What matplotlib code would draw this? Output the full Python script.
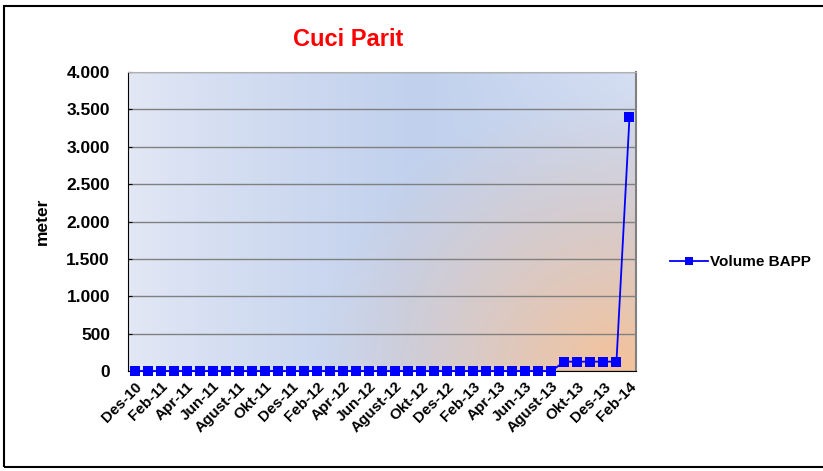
import numpy as np
import matplotlib.pyplot as plt
from matplotlib.patches import Rectangle
from matplotlib.ticker import FuncFormatter

# monthly categories Des-10 .. Feb-14
months = ["Des-10", "Jan-11", "Feb-11", "Mar-11", "Apr-11", "Mei-11", "Jun-11",
          "Jul-11", "Agust-11", "Sep-11", "Okt-11", "Nov-11", "Des-11",
          "Jan-12", "Feb-12", "Mar-12", "Apr-12", "Mei-12", "Jun-12",
          "Jul-12", "Agust-12", "Sep-12", "Okt-12", "Nov-12", "Des-12",
          "Jan-13", "Feb-13", "Mar-13", "Apr-13", "Mei-13", "Jun-13",
          "Jul-13", "Agust-13", "Sep-13", "Okt-13", "Nov-13", "Des-13",
          "Jan-14", "Feb-14"]
volume_bapp = [0] * 33 + [125, 125, 125, 125, 125, 3395]
series_name = "Volume BAPP"

FONT = "Liberation Sans"

fig = plt.figure(figsize=(8.23, 4.71), dpi=100)
ax = fig.add_axes([128 / 823, 1 - 371 / 471, 508 / 823, 299 / 471])

# background gradient (blue with warm glow in lower right)
W, H = 508, 299
xx, yy = np.meshgrid(np.arange(W), np.arange(H))
light = np.array([0.89, 0.91, 0.96])
blue = np.array([0.76, 0.82, 0.93])
orange = np.array([0.96, 0.76, 0.60])
tb = np.clip(xx / (0.55 * W), 0, 1) ** 0.8
top_fade = np.clip((xx - 0.6 * W) / (0.4 * W), 0, 1) * np.clip(1 - yy / (0.5 * H), 0, 1)
img = light * (1 - tb[..., None]) + blue * tb[..., None]
img = img * (1 - 0.6 * top_fade[..., None]) + light * 0.6 * top_fade[..., None]
d = np.sqrt((xx - 0.97 * W) ** 2 + ((yy - 1.0 * H) * 1.1) ** 2)
to = np.clip(1 - d / 310, 0, 1) ** 1.2
img = img * (1 - to[..., None]) + orange * to[..., None]
ax.imshow(img, extent=(-0.5, 38.5, 0, 4000), aspect="auto", zorder=0, origin="upper")

x = np.arange(len(months))
ax.plot(x, volume_bapp, color="#0000ff", lw=1.3, marker="s", ms=7.6, mew=0,
        label=series_name, zorder=3, clip_on=False)

ax.set_xlim(-0.5, len(months) - 0.5)
ax.set_ylim(0, 4000)
ax.set_yticks(np.arange(0, 4001, 500))
ax.yaxis.set_major_formatter(FuncFormatter(lambda v, p: f"{int(v):,}".replace(",", ".")))
ax.yaxis.grid(True, color="#808080", lw=1)
ax.set_axisbelow(True)
for gl in ax.get_ygridlines():
    gl.set_zorder(1)

ax.set_xticks(x[::2])
ax.set_xticklabels(months[::2], rotation=45, ha="right", rotation_mode="anchor",
                   fontsize=11, fontweight="bold", family=FONT)
ax.tick_params(axis="x", length=0, pad=6)
ax.tick_params(axis="y", length=3, direction="in", pad=13)
for lab in ax.get_yticklabels():
    lab.set_fontsize(12.5)
    lab.set_fontweight("bold")
    lab.set_family(FONT)

ax.spines["left"].set_color("black")
ax.spines["bottom"].set_color("black")
ax.spines["top"].set_color("#b0b0b0")
ax.spines["right"].set_color("#808080")
ax.spines["right"].set_linewidth(1.5)

ax.set_ylabel("meter", fontsize=12.5, fontweight="bold", family=FONT, labelpad=12)
fig.text(348 / 823, 1 - 40 / 471, "Cuci Parit", color="red", fontsize=17,
         fontweight="bold", family=FONT, ha="center", va="center")

fig.legend(loc="center left", bbox_to_anchor=(656 / 823, 1 - 262 / 471), frameon=False,
           prop={"family": FONT, "weight": "bold", "size": 11},
           handlelength=2.5, handletextpad=0.15, markerscale=0.8)

fig.patches.append(Rectangle((4 / 823, 1 - 467 / 471), 1.0, 461 / 471, transform=fig.transFigure,
                             fill=False, edgecolor="black", lw=1.5))

fig.savefig("out.png", dpi=100)
